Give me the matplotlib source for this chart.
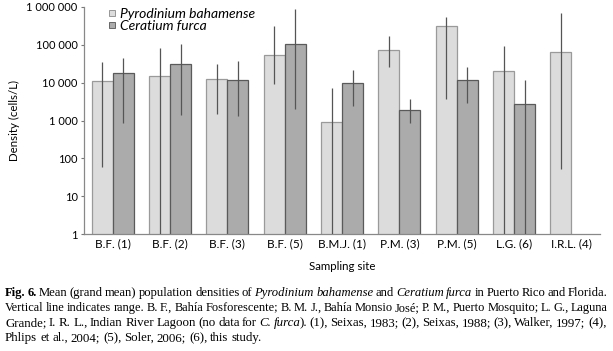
import numpy as np
import matplotlib
matplotlib.use("Agg")
import matplotlib.pyplot as plt
from matplotlib.lines import Line2D
from matplotlib.ticker import FixedLocator

sites = ["B.F. (1)", "B.F. (2)", "B.F. (3)", "B.F. (5)", "B.M.J. (1)",
         "P.M. (3)", "P.M. (5)", "L.G. (6)", "I.R.L. (4)"]

# Pyrodinium bahamense: mean, range low, range high
pyro_mean = [11100, 15300, 12300, 53000, 900, 74000, 308000, 20400, 63000]
pyro_low = [60, 1, 1520, 9400, 1, 25900, 3800, 1, 52]
pyro_high = [34600, 81000, 30600, 318000, 7250, 174000, 550000, 95000, 680000]

# Ceratium furca (no data for I.R.L.)
cer_mean = [17700, 30600, 12000, 105000, 9800, 1940, 11700, 2740, np.nan]
cer_low = [870, 1400, 1340, 2030, 2400, 870, 2860, 1, np.nan]
cer_high = [45500, 107000, 37300, 876000, 21300, 3800, 26400, 11700, np.nan]

ytick_vals = [1, 10, 100, 1000, 10000, 100000, 1000000]
ytick_labels = ["1", "10", "100", "1 000", "10 000", "100 000", "1 000 000"]

# caption: lines of (text, style) segments; "b" bold, "i" italic, "" normal
caption = [
    [("Fig. 6.", "b"), ("Mean (grand mean) population densities of", ""),
     ("Pyrodinium bahamense", "i"), ("and", ""), ("Ceratium furca", "i"),
     ("in Puerto Rico and Florida.", "")],
    [("Vertical line indicates range. B. F., Bahía Fosforescente; B. M. J., Bahía Monsio José; "
      "P. M., Puerto Mosquito; L. G., Laguna", "")],
    [("Grande; I. R. L., Indian River Lagoon (no data for", ""), ("C. furca", "i"),
     ("). (1), Seixas, 1983; (2), Seixas, 1988; (3), Walker, 1997; (4),", "")],
    [("Phlips et al., 2004; (5), Soler, 2006; (6), this study.", "")],
]

plt.rcParams["font.family"] = ["Lato", "DejaVu Sans"]

fig = plt.figure(figsize=(6.13, 3.51), dpi=100)
ax = fig.add_axes([0.137, 0.3325, 0.842, 0.648])

x = np.arange(len(sites))
w = 0.366
light = "#dcdcdc"
dark = "#ababab"
line_col = "#555555"

ax.bar(x - w / 2, pyro_mean, width=w, color=light, edgecolor="#9a9a9a", linewidth=0.9, zorder=2)
ax.bar(x + w / 2, cer_mean, width=w, color=dark, edgecolor="#5a5a5a", linewidth=0.9, zorder=2)
ax.vlines(x - w / 2, pyro_low, pyro_high, color=line_col, linewidth=0.9, zorder=3)
ax.vlines(x + w / 2, cer_low, cer_high, color=line_col, linewidth=0.9, zorder=3)

ax.set_yscale("log")
ax.set_ylim(1, 1000000)
ax.set_xlim(-0.5, len(sites) - 0.5)
ax.yaxis.set_major_locator(FixedLocator(ytick_vals))
ax.yaxis.set_minor_locator(FixedLocator([]))
ax.set_yticklabels(ytick_labels, fontsize=8)
ax.set_xticks(x)
ax.set_xticklabels(sites, fontsize=8.5)
ax.tick_params(axis="x", length=0, pad=3)
ax.tick_params(axis="y", length=2.5, width=0.8, color="#777777", pad=2)

for s in ["top", "right"]:
    ax.spines[s].set_visible(False)
for s in ["left", "bottom"]:
    ax.spines[s].set_color("#888888")
    ax.spines[s].set_linewidth(0.9)

ax.set_ylabel("Density (cells/L)", fontsize=8.3, labelpad=5)
fig.text(0.5 * (0.137 + 0.979), 1 - 266 / 351, "Sampling site", fontsize=8.3,
         ha="center", va="center")

handles = [
    Line2D([], [], marker="s", linestyle="none", markersize=4,
           markerfacecolor=light, markeredgecolor="#888888", markeredgewidth=0.6),
    Line2D([], [], marker="s", linestyle="none", markersize=4,
           markerfacecolor=dark, markeredgecolor="#555555", markeredgewidth=0.6),
]
ax.legend(handles, ["Pyrodinium bahamense", "Ceratium furca"], loc="upper left",
          bbox_to_anchor=(0.035, 1.02), frameon=False, handlelength=0.6,
          handletextpad=0.3, labelspacing=0.0, borderaxespad=0,
          prop={"style": "italic", "size": 10})

# caption, justified like the printed figure
left_px, right_px = 5, 608
ys = [293, 308, 323, 338]
renderer = fig.canvas.get_renderer()


def place_line(segs, yy, size, justify):
    words = []
    for text, st in segs:
        for wd in text.split(" "):
            kw = {}
            if st == "b":
                kw["weight"] = "bold"
            if st == "i":
                kw["style"] = "italic"
            t = fig.text(0, 1 - yy / 351, wd, fontsize=size, family="Liberation Serif",
                         ha="left", va="center", **kw)
            words.append(t)
    widths = [t.get_window_extent(renderer).width for t in words]
    # closing parenthesis after an italic word sits right against it
    glue = [False] + [words[i].get_text().startswith(")") for i in range(1, len(words))]
    n_gaps = sum(1 for g in glue[1:] if not g)
    gap = (right_px - left_px - sum(widths)) / n_gaps if justify else 2.9
    if gap < 2.1:
        for t in words:
            t.remove()
        return False
    xp = left_px
    for i, t in enumerate(words):
        if i > 0:
            xp += -1.5 if glue[i] else gap
        t.set_x(xp / 613)
        xp += widths[i]
    return True


for li, (segs, yy) in enumerate(zip(caption, ys)):
    size = 9.3
    while not place_line(segs, yy, size, li < len(caption) - 1):
        size -= 0.1

fig.savefig("out.png", dpi=100)
